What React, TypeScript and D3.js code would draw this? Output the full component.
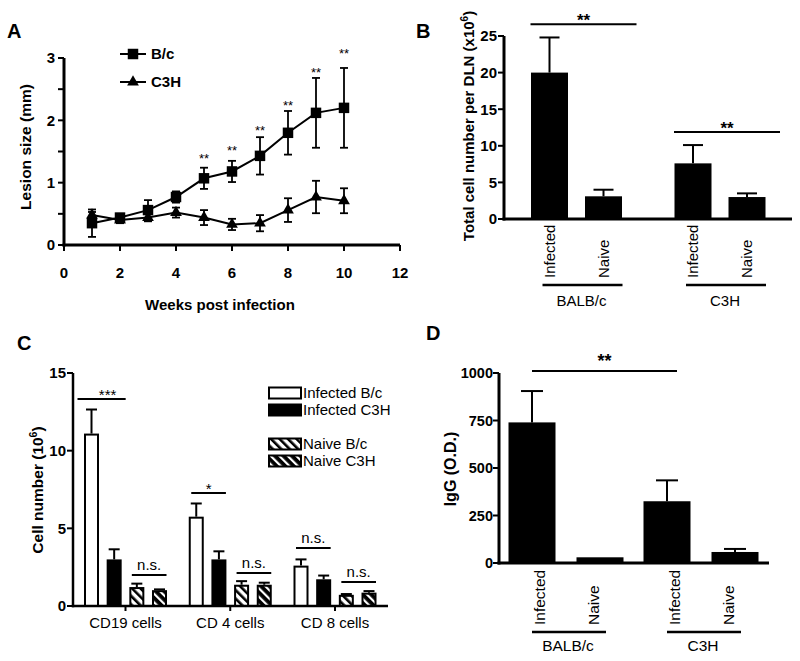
import React from "react";
import * as d3 from "d3";

const FONT = "'Liberation Sans', Arial, Helvetica, sans-serif";

// ---------- Panel A data ----------
const weeks = [1, 2, 3, 4, 5, 6, 7, 8, 9, 10];
const bcMean = [0.35, 0.44, 0.56, 0.77, 1.07, 1.18, 1.43, 1.8, 2.12, 2.2];
const bcErr = [0.22, 0.06, 0.16, 0.09, 0.17, 0.17, 0.3, 0.35, 0.56, 0.64];
const c3hMean = [0.48, 0.4, 0.44, 0.52, 0.44, 0.33, 0.35, 0.56, 0.77, 0.71];
const c3hErr = [0.05, 0.05, 0.06, 0.08, 0.12, 0.09, 0.13, 0.19, 0.26, 0.2];
const starWeeks = [5, 6, 7, 8, 9, 10];
const starLevels = [1.44, 1.56, 1.89, 2.29, 2.82, 3.12];
const aXTicks = [0, 2, 4, 6, 8, 10, 12];
const aYTicks = [0, 1, 2, 3];
const aYMinor = [0.5, 1.5, 2.5];

// ---------- Panel B data ----------
const bGroups = ["BALB/c", "C3H"];
const bConds = ["Infected", "Naive"];
const bMean = [
  [20.0, 3.1],
  [7.6, 3.0],
];
const bErr = [
  [4.8, 0.9],
  [2.5, 0.5],
];
const bYTicks = [0, 5, 10, 15, 20, 25];
const bSig = [
  { group: "BALB/c", y: 26.6, label: "**" },
  { group: "C3H", y: 11.9, label: "**" },
];

// ---------- Panel C data ----------
const cCats = ["CD19 cells", "CD 4 cells", "CD 8 cells"];
const cSeries = ["Infected B/c", "Infected C3H", "Naive B/c", "Naive C3H"];
const cMean = [
  [11.1, 5.75, 2.6],
  [3.0, 3.0, 1.72],
  [1.22, 1.37, 0.72],
  [1.02, 1.37, 0.86],
];
const cErr = [
  [1.55, 0.85, 0.4],
  [0.65, 0.52, 0.24],
  [0.22, 0.23, 0.05],
  [0.05, 0.13, 0.1],
];
const cYTicks = [0, 5, 10, 15];
const cSig = [
  { cat: "CD19 cells", pair: 0, y: 13.33, label: "***", ext: 9 },
  { cat: "CD 4 cells", pair: 0, y: 7.28, label: "*", ext: 0 },
  { cat: "CD 8 cells", pair: 0, y: 3.73, label: "n.s.", ext: 0 },
  { cat: "CD19 cells", pair: 1, y: 2.0, label: "n.s.", ext: 0 },
  { cat: "CD 4 cells", pair: 1, y: 2.12, label: "n.s.", ext: 0 },
  { cat: "CD 8 cells", pair: 1, y: 1.55, label: "n.s.", ext: 0 },
];

// ---------- Panel D data ----------
const dGroups = ["BALB/c", "C3H"];
const dConds = ["Infected", "Naive"];
const dMean = [
  [740, 30],
  [325, 58],
];
const dErr = [
  [165, 0],
  [110, 16],
];
const dYTicks = [0, 250, 500, 750, 1000];
const dSigY = 1010;

function PanelA() {
  const x = d3.scaleLinear().domain([0, 12]).range([64, 400]);
  const y = d3.scaleLinear().domain([0, 3]).range([245, 58]);
  const line = d3
    .line<number>()
    .x((_, i) => x(weeks[i]))
    .y((d) => y(d));
  const sq = d3.symbol().type(d3.symbolSquare).size(110)();
  const tri = d3.symbol().type(d3.symbolTriangle).size(60)();
  const errBars = (mean: number[], err: number[], key: string) =>
    mean.map((m, i) => (
      <g key={key + i}>
        <line x1={x(weeks[i])} x2={x(weeks[i])} y1={y(m - err[i])} y2={y(m + err[i])} stroke="#000" strokeWidth={1.8} />
        <line x1={x(weeks[i]) - 4} x2={x(weeks[i]) + 4} y1={y(m + err[i])} y2={y(m + err[i])} stroke="#000" strokeWidth={1.8} />
        <line x1={x(weeks[i]) - 4} x2={x(weeks[i]) + 4} y1={y(m - err[i])} y2={y(m - err[i])} stroke="#000" strokeWidth={1.8} />
      </g>
    ));
  return (
    <g>
      <text x={7} y={38} fontSize={20} fontWeight="bold">A</text>
      {/* axes */}
      <line x1={x(0)} x2={x(0)} y1={y(3)} y2={y(0) + 1.5} stroke="#000" strokeWidth={3} />
      <line x1={x(0) - 1.5} x2={x(12)} y1={y(0)} y2={y(0)} stroke="#000" strokeWidth={3} />
      {aYTicks.concat(aYMinor).map((t) => (
        <line key={"yt" + t} x1={x(0) - 6} x2={x(0)} y1={y(t)} y2={y(t)} stroke="#000" strokeWidth={2} />
      ))}
      {aYTicks.map((t) => (
        <text key={"yl" + t} x={x(0) - 9} y={y(t)} dy="0.36em" textAnchor="end" fontSize={15} fontWeight="bold">{t}</text>
      ))}
      {aXTicks.map((t) => (
        <g key={"xt" + t}>
          <line x1={x(t)} x2={x(t)} y1={y(0)} y2={y(0) + 6} stroke="#000" strokeWidth={2} />
          <text x={x(t)} y={278} textAnchor="middle" fontSize={15} fontWeight="bold">{t}</text>
        </g>
      ))}
      <text x={220} y={310} textAnchor="middle" fontSize={15} fontWeight="bold">Weeks post infection</text>
      <text transform={`translate(31,147) rotate(-90)`} textAnchor="middle" fontSize={15.5} fontWeight="bold">Lesion size (mm)</text>
      {/* series */}
      <path d={line(bcMean) || ""} fill="none" stroke="#000" strokeWidth={2} />
      <path d={line(c3hMean) || ""} fill="none" stroke="#000" strokeWidth={2} />
      {errBars(bcMean, bcErr, "bc")}
      {errBars(c3hMean, c3hErr, "c3")}
      {bcMean.map((m, i) => (
        <path key={"sq" + i} d={sq || ""} transform={`translate(${x(weeks[i])},${y(m)})`} fill="#000" />
      ))}
      {c3hMean.map((m, i) => (
        <path key={"tr" + i} d={tri || ""} transform={`translate(${x(weeks[i])},${y(m)})`} fill="#000" />
      ))}
      {starWeeks.map((w, i) => (
        <text key={"st" + w} x={x(w)} y={y(starLevels[i]) + 7.5} textAnchor="middle" fontSize={13}>**</text>
      ))}
      {/* legend */}
      <line x1={120} x2={146} y1={54} y2={54} stroke="#000" strokeWidth={2} />
      <path d={sq || ""} transform="translate(133,54)" fill="#000" />
      <text x={151} y={54} dy="0.36em" fontSize={15} fontWeight="bold">B/c</text>
      <line x1={120} x2={146} y1={82} y2={82} stroke="#000" strokeWidth={2} />
      <path d={tri || ""} transform="translate(133,82)" fill="#000" />
      <text x={151} y={82} dy="0.36em" fontSize={15} fontWeight="bold">C3H</text>
    </g>
  );
}

function GroupedBars(props: {
  groups: string[];
  conds: string[];
  mean: number[][];
  err: number[][];
  x: d3.ScalePoint<string>;
  cx: d3.ScalePoint<string>;
  y: d3.ScaleLinear<number, number>;
  bw: number;
  cap: number;
}) {
  const { groups, conds, mean, err, x, cx, y, bw, cap } = props;
  return (
    <g>
      {groups.map((g, gi) =>
        conds.map((c, ci) => {
          const xc = (x(g) || 0) + (cx(c) || 0);
          const m = mean[gi][ci];
          const e = err[gi][ci];
          return (
            <g key={g + c}>
              {e > 0 && (
                <>
                  <line x1={xc} x2={xc} y1={y(m)} y2={y(m + e)} stroke="#000" strokeWidth={2} />
                  <line x1={xc - cap / 2} x2={xc + cap / 2} y1={y(m + e)} y2={y(m + e)} stroke="#000" strokeWidth={2} />
                </>
              )}
              <rect x={xc - bw / 2} y={y(m)} width={bw} height={y(0) - y(m)} fill="#000" />
            </g>
          );
        })
      )}
    </g>
  );
}

function PanelB() {
  const y = d3.scaleLinear().domain([0, 25]).range([219, 36]);
  const x = d3.scalePoint<string>().domain(bGroups).range([576.5, 720]);
  const cx = d3.scalePoint<string>().domain(bConds).range([-27, 27]);
  const x0 = 504;
  return (
    <g>
      <text x={416} y={38} fontSize={20} fontWeight="bold">B</text>
      <GroupedBars groups={bGroups} conds={bConds} mean={bMean} err={bErr} x={x} cx={cx} y={y} bw={37} cap={20} />
      <line x1={x0} x2={x0} y1={y(25)} y2={y(0) + 1.5} stroke="#000" strokeWidth={3} />
      <line x1={x0 - 1.5} x2={792} y1={y(0)} y2={y(0)} stroke="#000" strokeWidth={3} />
      {bYTicks.map((t) => (
        <g key={t}>
          <line x1={x0 - 6} x2={x0} y1={y(t)} y2={y(t)} stroke="#000" strokeWidth={2} />
          <text x={x0 - 7} y={y(t)} dy="0.36em" textAnchor="end" fontSize={15} fontWeight="bold">{t}</text>
        </g>
      ))}
      <text transform={`translate(474,126) rotate(-90)`} textAnchor="middle" fontSize={15} fontWeight="bold">
        Total cell number per DLN (x10<tspan dy={-6} fontSize={10}>6</tspan><tspan dy={6}>)</tspan>
      </text>
      {bGroups.map((g) => (
        <g key={g}>
          {bConds.map((c) => (
            <text key={c} transform={`translate(${(x(g) || 0) + (cx(c) || 0)},278) rotate(-90)`} dy="0.36em" fontSize={15}>{c}</text>
          ))}
          <line x1={(x(g) || 0) + (cx("Infected") || 0) - 7} x2={(x(g) || 0) + (cx("Naive") || 0) + 19} y1={285} y2={285} stroke="#000" strokeWidth={2.5} />
          <text x={(x(g) || 0) + 5} y={306} textAnchor="middle" fontSize={15}>{g}</text>
        </g>
      ))}
      {bSig.map((s) => {
        const xa = (x(s.group) || 0) + (cx("Infected") || 0) - 19;
        const xb = (x(s.group) || 0) + (cx("Naive") || 0) + 33;
        return (
          <g key={s.group}>
            <line x1={xa} x2={xb} y1={y(s.y)} y2={y(s.y)} stroke="#000" strokeWidth={2} />
            <text x={(xa + xb) / 2} y={y(s.y) + 2} textAnchor="middle" fontSize={17} fontWeight="bold">{s.label}</text>
          </g>
        );
      })}
    </g>
  );
}

function PanelC() {
  const y = d3.scaleLinear().domain([0, 15]).range([606, 373]);
  const x = d3.scalePoint<string>().domain(cCats).range([125.5, 335]);
  const sx = d3.scalePoint<string>().domain(cSeries).range([-34, 34]);
  const x0 = 73;
  const fills = ["#fff", "#000", "url(#hatchW)", "url(#hatchB)"];
  const bw = 15;
  const legendY = [393, 410, 444, 461];
  return (
    <g>
      <text x={17} y={350} fontSize={20} fontWeight="bold">C</text>
      {cSeries.map((s, si) =>
        cCats.map((c, ci) => {
          const xc = (x(c) || 0) + (sx(s) || 0);
          const m = cMean[si][ci];
          const e = cErr[si][ci];
          return (
            <g key={s + c}>
              <line x1={xc} x2={xc} y1={y(m)} y2={y(m + e)} stroke="#000" strokeWidth={2} />
              <line x1={xc - 5.5} x2={xc + 5.5} y1={y(m + e)} y2={y(m + e)} stroke="#000" strokeWidth={2} />
              <rect x={xc - bw / 2 + 1} y={y(m) + 1} width={bw - 2} height={y(0) - y(m) - 1} fill={fills[si]} stroke="#000" strokeWidth={2} />
            </g>
          );
        })
      )}
      <line x1={x0} x2={x0} y1={y(15)} y2={y(0) + 1.25} stroke="#000" strokeWidth={2.5} />
      <line x1={x0 - 1.25} x2={388} y1={y(0)} y2={y(0)} stroke="#000" strokeWidth={2.5} />
      {cYTicks.map((t) => (
        <g key={t}>
          <line x1={x0 - 6} x2={x0} y1={y(t)} y2={y(t)} stroke="#000" strokeWidth={2} />
          <text x={x0 - 7} y={y(t)} dy="0.36em" textAnchor="end" fontSize={15} fontWeight="bold">{t}</text>
        </g>
      ))}
      {cCats.map((c) => (
        <g key={c}>
          <line x1={x(c) || 0} x2={x(c) || 0} y1={y(0)} y2={y(0) + 5} stroke="#000" strokeWidth={2} />
          <text x={x(c) || 0} y={628} textAnchor="middle" fontSize={15}>{c}</text>
        </g>
      ))}
      <text transform={`translate(43,490) rotate(-90)`} textAnchor="middle" fontSize={15.5} fontWeight="bold">
        Cell number (10<tspan dy={-6} fontSize={10.5}>6</tspan><tspan dy={6}>)</tspan>
      </text>
      {cSig.map((s, i) => {
        const a = cSeries[s.pair * 2];
        const b = cSeries[s.pair * 2 + 1];
        const xa = (x(s.cat) || 0) + (sx(a) || 0) - 5 - s.ext;
        const xb = (x(s.cat) || 0) + (sx(b) || 0) + 7 + s.ext * 0.5;
        const isStar = s.label.indexOf("*") >= 0;
        return (
          <g key={i}>
            <line x1={xa} x2={xb} y1={y(s.y)} y2={y(s.y)} stroke="#000" strokeWidth={2} />
            <text x={(xa + xb) / 2 + (s.ext ? 6 : 0)} y={isStar ? y(s.y) + 1 : y(s.y) - 5} textAnchor="middle" fontSize={15}>{s.label}</text>
          </g>
        );
      })}
      {cSeries.map((s, si) => (
        <g key={s}>
          <rect x={269} y={legendY[si] - 5.5} width={32} height={11} fill={fills[si]} stroke="#000" strokeWidth={2} />
          <text x={303} y={legendY[si]} dy="0.36em" fontSize={15}>{s}</text>
        </g>
      ))}
    </g>
  );
}

function PanelD() {
  const y = d3.scaleLinear().domain([0, 1000]).range([563, 373]);
  const x = d3.scalePoint<string>().domain(dGroups).range([566, 701]);
  const cx = d3.scalePoint<string>().domain(dConds).range([-34, 34]);
  const x0 = 499;
  return (
    <g>
      <text x={426} y={340} fontSize={20} fontWeight="bold">D</text>
      <GroupedBars groups={dGroups} conds={dConds} mean={dMean} err={dErr} x={x} cx={cx} y={y} bw={47} cap={22} />
      <line x1={x0} x2={x0} y1={y(1000)} y2={y(0) + 1.5} stroke="#000" strokeWidth={3} />
      <line x1={x0 - 1.5} x2={769} y1={y(0)} y2={y(0)} stroke="#000" strokeWidth={3} />
      {dYTicks.map((t) => (
        <g key={t}>
          <line x1={x0 - 6} x2={x0} y1={y(t)} y2={y(t)} stroke="#000" strokeWidth={2} />
          <text x={x0 - 6} y={y(t)} dy="0.36em" textAnchor="end" fontSize={14.5} fontWeight="bold">{t}</text>
        </g>
      ))}
      <text transform={`translate(456,469) rotate(-90)`} textAnchor="middle" fontSize={16} fontWeight="bold">IgG (O.D.)</text>
      {dGroups.map((g) => (
        <g key={g}>
          {dConds.map((c, ci) => (
            <text key={c} transform={`translate(${(x(g) || 0) + (ci === 0 ? -27 : 27)},625) rotate(-90)`} dy="0.36em" fontSize={15.5}>{c}</text>
          ))}
          <line x1={(x(g) || 0) - 34} x2={(x(g) || 0) + 40} y1={632} y2={632} stroke="#000" strokeWidth={2.5} />
          <text x={(x(g) || 0) + 2} y={651} textAnchor="middle" fontSize={15.5}>{g}</text>
        </g>
      ))}
      {(() => {
        const xa = (x("BALB/c") || 0) + (cx("Infected") || 0);
        const xb = (x("C3H") || 0) + (cx("Infected") || 0) + 10;
        return (
          <g>
            <line x1={xa} x2={xb} y1={y(dSigY)} y2={y(dSigY)} stroke="#000" strokeWidth={2} />
            <text x={(xa + xb) / 2} y={y(dSigY) - 4} textAnchor="middle" fontSize={18} fontWeight="bold">**</text>
          </g>
        );
      })()}
    </g>
  );
}

export default function App() {
  return (
    <div style={{ position: "absolute", left: 0, top: 0 }}>
      <svg width={800} height={661} style={{ display: "block", background: "#fff" }} fontFamily={FONT}>
        <defs>
          <pattern id="hatchW" patternUnits="userSpaceOnUse" width={6} height={6} patternTransform="rotate(-45)">
            <rect width={6} height={6} fill="#fff" />
            <rect width={2.6} height={6} fill="#000" />
          </pattern>
          <pattern id="hatchB" patternUnits="userSpaceOnUse" width={6} height={6} patternTransform="rotate(-45)">
            <rect width={6} height={6} fill="#000" />
            <rect width={2.2} height={6} fill="#fff" />
          </pattern>
        </defs>
        <rect width={800} height={661} fill="#fff" />
        <PanelA />
        <PanelB />
        <PanelC />
        <PanelD />
      </svg>
    </div>
  );
}
